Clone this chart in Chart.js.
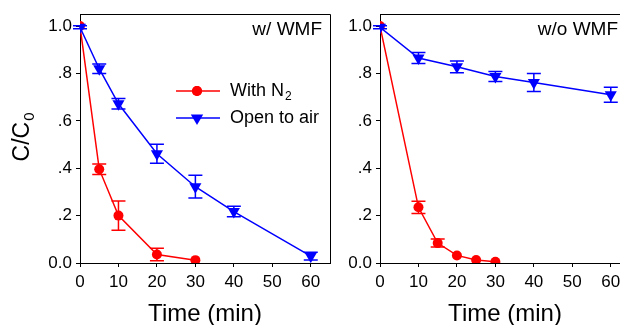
<!DOCTYPE html>
<html>
<head>
<meta charset="utf-8">
<script src="https://cdn.jsdelivr.net/npm/chart.js@4/dist/chart.umd.min.js"></script>
<style>
  html, body { margin: 0; padding: 0; background: #fff; overflow: hidden; width: 620px; height: 325px; }
  #wrap { position: relative; width: 620px; height: 325px; overflow: hidden; }
  canvas { position: absolute; top: 0; }
  #c1 { left: 0; }
  #c2 { left: 300px; }
</style>
</head>
<body>
<div id="wrap">
  <canvas id="c1" width="340" height="325"></canvas>
  <canvas id="c2" width="340" height="325"></canvas>
</div>
<script>
// ---------- data ----------
const xTicks = [0, 10, 20, 30, 40, 50, 60];
const yTicks = [0, 0.2, 0.4, 0.6, 0.8, 1.0];
const yTickLabels = ['0.0', '.2', '.4', '.6', '.8', '1.0'];

// Left panel: w/ WMF
const leftTimeN2 = [0, 5, 10, 20, 30];
const leftN2 = [1.0, 0.396, 0.20, 0.036, 0.012];
const leftN2Err = [0.0, 0.022, 0.062, 0.026, 0.0];
const leftTimeAir = [0, 5, 10, 20, 30, 40, 60];
const leftAir = [0.995, 0.82, 0.672, 0.461, 0.322, 0.217, 0.029];
const leftAirErr = [0.006, 0.02, 0.022, 0.04, 0.048, 0.022, 0.016];

// Right panel: w/o WMF
const rightTimeN2 = [0, 10, 15, 20, 25, 30];
const rightN2 = [1.0, 0.235, 0.084, 0.032, 0.013, 0.005];
const rightN2Err = [0.0, 0.026, 0.017, 0.0, 0.0, 0.0];
const rightTimeAir = [0, 10, 20, 30, 40, 60];
const rightAir = [0.995, 0.865, 0.828, 0.787, 0.762, 0.71];
const rightAirErr = [0.006, 0.023, 0.025, 0.021, 0.038, 0.032];

const seriesNames = ['With N', 'Open to air'];
const panelLabels = ['w/ WMF', 'w/o WMF'];
const xTitle = 'Time (min)';

// ---------- styling ----------
const FONT = '"Liberation Sans", Arial, sans-serif';
const RED = '#ff0000';
const BLUE = '#0000ff';

function pts(xs, ys) { return xs.map((x, i) => ({ x: x, y: ys[i] })); }

function makeDatasets(tN2, vN2, eN2, tAir, vAir, eAir) {
  return [
    {
      label: seriesNames[1], data: pts(tAir, vAir), errors: eAir,
      borderColor: BLUE, backgroundColor: BLUE, borderWidth: 1.5,
      pointStyle: 'triangle', rotation: 180, pointRadius: 7, pointHoverRadius: 7,
      pointBorderWidth: 0, tension: 0
    },
    {
      label: seriesNames[0], data: pts(tN2, vN2), errors: eN2,
      borderColor: RED, backgroundColor: RED, borderWidth: 1.5,
      pointStyle: 'circle', pointRadius: 5, pointHoverRadius: 5,
      pointBorderWidth: 0, tension: 0
    }
  ];
}

const errorBarPlugin = {
  id: 'errorBars',
  afterDatasetDraw(chart, args) {
    const ds = chart.data.datasets[args.index];
    if (!ds.errors) return;
    const ctx = chart.ctx;
    const xs = chart.scales.x, ys = chart.scales.y;
    ctx.save();
    ctx.strokeStyle = ds.borderColor;
    ctx.lineWidth = 1.5;
    ds.data.forEach((p, i) => {
      const e = ds.errors[i];
      if (!e) return;
      const px = xs.getPixelForValue(p.x);
      const top = ys.getPixelForValue(p.y + e);
      const bot = ys.getPixelForValue(p.y - e);
      const cap = 7;
      ctx.beginPath();
      ctx.moveTo(px, top); ctx.lineTo(px, bot);
      ctx.moveTo(px - cap, top); ctx.lineTo(px + cap, top);
      ctx.moveTo(px - cap, bot); ctx.lineTo(px + cap, bot);
      ctx.stroke();
    });
    ctx.restore();
  }
};

const framePlugin = {
  id: 'frame',
  afterDraw(chart, args, opts) {
    const ctx = chart.ctx;
    const a = chart.chartArea;
    ctx.save();
    // top & right frame lines
    ctx.strokeStyle = '#000';
    ctx.lineWidth = 1;
    ctx.beginPath();
    ctx.moveTo(Math.round(a.left) + 0.5, Math.round(a.top) + 0.5);
    ctx.lineTo(Math.round(a.right) + 0.5, Math.round(a.top) + 0.5);
    ctx.lineTo(Math.round(a.right) + 0.5, Math.round(a.bottom) + 0.5);
    ctx.stroke();

    // panel label
    ctx.fillStyle = '#000';
    ctx.font = '19px ' + FONT;
    ctx.textAlign = 'right';
    ctx.textBaseline = 'alphabetic';
    ctx.fillText(opts.label, a.right - opts.labelInset, 35);

    // x-axis title
    ctx.font = '24px ' + FONT;
    ctx.textAlign = 'center';
    ctx.fillText(xTitle, (a.left + a.right) / 2, 321);

    // y-axis title with subscript
    if (opts.yTitle) {
      ctx.save();
      ctx.translate(29, 137);
      ctx.rotate(-Math.PI / 2);
      ctx.font = '23px ' + FONT;
      const main = 'C/C';
      const wMain = ctx.measureText(main).width;
      ctx.font = '15px ' + FONT;
      const wSub = ctx.measureText('0').width;
      const total = wMain + wSub + 1;
      ctx.textAlign = 'left';
      ctx.font = '23px ' + FONT;
      ctx.fillText(main, -total / 2, 0);
      ctx.font = '15px ' + FONT;
      ctx.fillText('0', -total / 2 + wMain + 1, 5);
      ctx.restore();
    }

    // legend
    if (opts.legend) {
      const rows = [
        { y: 91, color: RED, style: 'circle', name: seriesNames[0], sub: '2' },
        { y: 118, color: BLUE, style: 'triangle', name: seriesNames[1], sub: '' }
      ];
      rows.forEach(r => {
        ctx.strokeStyle = r.color;
        ctx.fillStyle = r.color;
        ctx.lineWidth = 1.5;
        ctx.beginPath();
        ctx.moveTo(176, r.y); ctx.lineTo(220, r.y);
        ctx.stroke();
        if (r.style === 'circle') {
          Chart.helpers.drawPoint(ctx, { pointStyle: 'circle', radius: 5, rotation: 0, borderWidth: 0 }, 197, r.y);
          ctx.beginPath(); ctx.arc(197, r.y, 5, 0, Math.PI * 2); ctx.fill();
        } else {
          ctx.beginPath();
          ctx.moveTo(197 - 6.2, r.y - 3.5);
          ctx.lineTo(197 + 6.2, r.y - 3.5);
          ctx.lineTo(197, r.y + 7);
          ctx.closePath();
          ctx.fill();
        }
        ctx.fillStyle = '#000';
        ctx.textAlign = 'left';
        ctx.font = '18px ' + FONT;
        const baseY = r.y + 5;
        ctx.fillText(r.name, 230, baseY);
        if (r.sub) {
          const w = ctx.measureText(r.name).width;
          ctx.font = '12px ' + FONT;
          ctx.fillText(r.sub, 230 + w + 1, baseY + 4);
        }
      });
    }
    ctx.restore();
  }
};

function makeChart(id, datasets, label, labelInset, showLegend, showYTitle) {
  const canvas = document.getElementById(id);
  return new Chart(canvas, {
    type: 'line',
    data: { datasets: datasets },
    plugins: [errorBarPlugin, framePlugin],
    options: {
      responsive: false,
      animation: false,
      devicePixelRatio: 1,
      layout: { padding: { left: 0, top: 13, right: canvas.width - 330, bottom: 0 } },
      plugins: {
        legend: { display: false },
        tooltip: { enabled: false },
        frame: { label: label, labelInset: labelInset, legend: showLegend, yTitle: showYTitle }
      },
      scales: {
        x: {
          type: 'linear', min: 0, max: 65,
          afterBuildTicks: s => { s.ticks = xTicks.map(v => ({ value: v })); },
          afterFit: s => { s.height = 62; },
          ticks: { color: '#000', font: { family: FONT, size: 17 }, padding: 5, maxRotation: 0,
                   callback: v => String(v) },
          grid: { display: true, drawOnChartArea: false, drawTicks: true, tickLength: 4, color: '#000' },
          border: { display: true, color: '#000', width: 1 }
        },
        y: {
          type: 'linear', min: 0, max: 1.05,
          afterBuildTicks: s => { s.ticks = yTicks.map(v => ({ value: v })); },
          afterFit: s => { s.width = 80; },
          ticks: { color: '#000', font: { family: FONT, size: 17 }, padding: 4,
                   callback: v => { const i = yTicks.findIndex(t => Math.abs(t - v) < 1e-6); return i >= 0 ? yTickLabels[i] : ''; } },
          grid: { display: true, drawOnChartArea: false, drawTicks: true, tickLength: 4, color: '#000' },
          border: { display: true, color: '#000', width: 1 }
        }
      }
    }
  });
}

makeChart('c1', makeDatasets(leftTimeN2, leftN2, leftN2Err, leftTimeAir, leftAir, leftAirErr), panelLabels[0], 8, true, true);
makeChart('c2', makeDatasets(rightTimeN2, rightN2, rightN2Err, rightTimeAir, rightAir, rightAirErr), panelLabels[1], 12, false, false);
</script>
</body>
</html>
